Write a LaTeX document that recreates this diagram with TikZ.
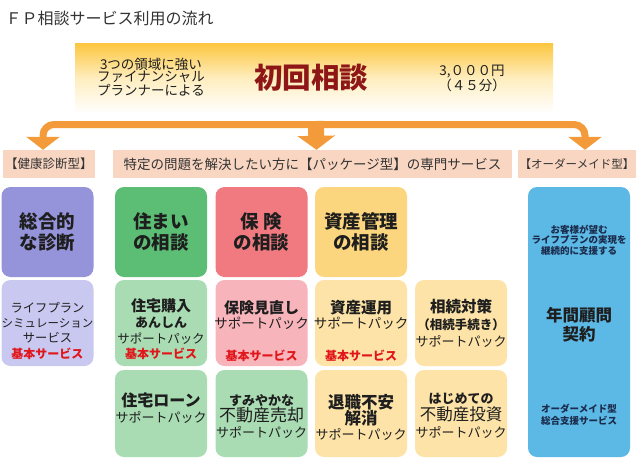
\documentclass[tikz,border=0pt]{standalone}
\usepackage{fontspec}
\setmainfont{Noto Sans CJK JP}
\usetikzlibrary{arrows.meta,positioning}

\definecolor{flow}{HTML}{F39A3A}
\definecolor{boxgold}{HTML}{FCC63E}
\definecolor{boxpale}{HTML}{FEEDBE}
\definecolor{tagpink}{HTML}{F9D6C2}
\definecolor{ink}{HTML}{1E1E1E}
\definecolor{titlegray}{HTML}{333333}
\definecolor{firstred}{HTML}{8E1616}
\definecolor{basicred}{HTML}{E0161B}
\definecolor{navy}{HTML}{1B2B4B}
\definecolor{purpleA}{HTML}{9593DA}
\definecolor{purpleB}{HTML}{C9C8F0}
\definecolor{greenA}{HTML}{5CBE75}
\definecolor{greenB}{HTML}{A9DCB3}
\definecolor{redA}{HTML}{F07A80}
\definecolor{redB}{HTML}{F7B4BA}
\definecolor{yellowA}{HTML}{FBD67E}
\definecolor{yellowB}{HTML}{FDE3A7}
\definecolor{blueA}{HTML}{5CB8E4}

\newcommand{\fsz}[2]{\fontsize{#1}{#2}\selectfont}

\tikzset{
  cell/.style={rounded corners=9pt, inner sep=0pt, minimum width=92pt},
  toprow/.style={cell, minimum height=90pt},
  midrow/.style={cell, minimum height=86pt},
  lowrow/.style={cell, minimum height=87pt},
  txt/.style={align=center, inner sep=0pt, text=ink},
  head/.style={txt, font=\bfseries\fsz{18.5}{21}},
  basic/.style={txt, text=basicred, font=\bfseries\fsz{12}{12}},
  tag/.style={fill=tagpink, minimum height=28pt, inner sep=0pt, text=titlegray},
  flowline/.style={draw=flow, line width=7pt, rounded corners=11pt,
    -{Triangle[width=33pt,length=13pt]}},
}

\begin{document}
\begin{tikzpicture}[x=1pt,y=-1pt]
    \useasboundingbox (0,0) rectangle (638,461);

    % Title
    \node[anchor=west, font=\fsz{16}{16}, text=titlegray] (title) at (2,18.5) {ＦＰ相談サービス利用の流れ};

    % First consultation
    \node[minimum width=478pt, minimum height=70pt, inner sep=0pt,
      top color=boxgold, bottom color=white, middle color=boxpale] (first) at (314,78) {};
    \node[txt, font=\fsz{13.5}{12.3}] (fp) at (151,77) {3つの領域に強い\\ファイナンシャル\\プランナーによる};
    \node[txt, text=firstred, font=\bfseries\fsz{28.5}{28}] (firsttxt) at (311,78) {初回相談};
    \node[txt, font=\fsz{13.5}{13}] (fee) at (472,78.5) {3,０００円\\（４５分）};

    % Type tags
    \node[tag, minimum width=92pt, font=\fsz{12.5}{12.5}] (health) at (49,164) {【健康診断型】};
    \node[tag, minimum width=399pt, font=\fsz{13.5}{13.5}] (pkg) at (312.5,164) {特定の問題を解決したい方に【パッケージ型】の専門サービス};
    \node[tag, minimum width=118pt, font=\fsz{11.5}{11.5}] (order) at (577,164) {【オーダーメイド型】};

    % Arrows
    \coordinate (hub) at (316,124.5);
    \draw[flowline] (hub) -| ([xshift=-6pt]health.north);
    \draw[flowline] (hub) -| ([xshift=8pt]order.north);
    \draw[draw=flow, line width=16pt, -{Triangle[width=37pt,length=14pt]}] (316,121) -- ([xshift=4pt]pkg.north);

    % Health check column
    \node[toprow, fill=purpleA] (t1) at (47.5,232) {};
    \node[head] (t1txt) at (t1) {総合的\\な診断};
    \node[midrow, fill=purpleB] (m1) at (47.5,323) {};
    \node[txt, font=\fsz{11.5}{15.3}] (m1txt) at (47.5,322.5) {{\fsz{12.3}{15.3}ライフプラン}\\シミュレーション\\{\fsz{12.3}{15.3}サービス}};
    \node[basic] (b1) at (47.5,354) {基本サービス};

    % Housing column
    \node[toprow, fill=greenA] (t2) at (161,232) {};
    \node[head] (t2txt) at (t2) {住まい\\の相談};
    \node[midrow, fill=greenB] (m2) at (161,323) {};
    \node[txt, font=\fsz{12.5}{16}] (m2txt) at (161,322) {{\bfseries\fsz{15}{16}住宅購入}\\{\bfseries\fsz{13}{16}あんしん}\\サポートパック};
    \node[basic] (b2) at (161,354) {基本サービス};
    \node[lowrow, fill=greenB] (l2) at (161,413.5) {};
    \node[txt, font=\fsz{13}{15.5}] (l2txt) at (161,408) {{\bfseries\fsz{16}{15.5}住宅ローン}\\サポートパック};

    % Insurance column
    \node[toprow, fill=redA] (t3) at (261.5,232) {};
    \node[head] (t3txt) at (t3) {保 険\\の相談};
    \node[midrow, fill=redB] (m3) at (261.5,323) {};
    \node[txt, font=\fsz{13.5}{15}] (m3txt) at (261.5,315) {{\bfseries\fsz{15}{15}保険見直し}\\サポートパック};
    \node[basic] (b3) at (261.5,356) {基本サービス};
    \node[lowrow, fill=greenB] (l3) at (261.5,413.5) {};
    \node[txt, font=\fsz{13}{16}] (l3txt) at (261.5,416) {{\bfseries すみやかな}\\{\fsz{17}{16}不動産売却}\\サポートパック};

    % Asset column
    \node[toprow, fill=yellowA] (t4) at (361,232) {};
    \node[head] (t4txt) at (t4) {資産管理\\の相談};
    \node[midrow, fill=yellowB] (m4) at (361,323) {};
    \node[txt, font=\fsz{13.5}{15}] (m4txt) at (361,315) {{\bfseries\fsz{15.5}{15}資産運用}\\サポートパック};
    \node[basic] (b4) at (361,356) {基本サービス};
    \node[lowrow, fill=yellowB] (l4) at (361,413.5) {};
    \node[txt, font=\fsz{13}{15}] (l4txt) at (361,417.5) {{\bfseries\fsz{16.5}{15}退職不安}\\{\bfseries\fsz{16.5}{15}解消}\\サポートパック};

    % Inheritance / real estate column
    \node[midrow, fill=yellowB] (m5) at (461,323) {};
    \node[txt, font=\fsz{13}{17}] (m5txt) at (461,323) {{\bfseries\fsz{15.5}{17}相続対策}\\{\bfseries\fsz{12.5}{17}（相続手続き）}\\サポートパック};
    \node[lowrow, fill=yellowB] (l5) at (461,413.5) {};
    \node[txt, font=\fsz{13}{17}] (l5txt) at (461,416) {{\bfseries はじめての}\\{\fsz{16.5}{17}不動産投資}\\サポートパック};

    % Order-made column
    \node[cell, minimum width=102pt, minimum height=270pt, fill=blueA] (contract) at (579,322) {};
    \node[txt, text=navy, font=\bfseries\fsz{9.5}{10.5}] (aim) at (579,240) {お客様が望む\\ライフプランの実現を\\継続的に支援する};
    \node[txt, font=\bfseries\fsz{16.5}{19}] (contracttxt) at (579,325) {年間顧問\\契約};
    \node[txt, text=navy, font=\bfseries\fsz{9.5}{12}] (support) at (579,415) {オーダーメイド型\\総合支援サービス};
\end{tikzpicture}
\end{document}
